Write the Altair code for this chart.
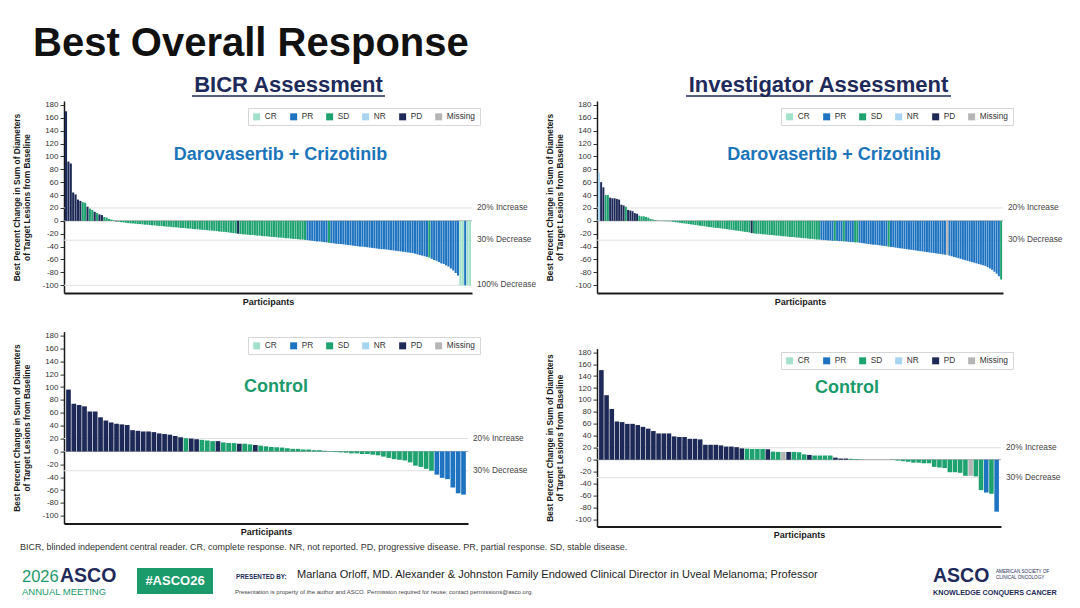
import altair as alt
import pandas as pd

FONT = "Liberation Sans"
NAVY = "#1e2a5a"
GREEN = "#1b9a6b"
ARM_BLUE = "#1a75bb"

RESPONSES = ["CR", "PR", "SD", "NR", "PD", "Missing"]
RESPONSE_COLORS = ["#a3e1ca", "#1f74c1", "#1ea26f", "#a7d5f0", "#1d2957", "#b5b5b5"]
Y_TICKS = [-100, -80, -60, -40, -20, 0, 20, 40, 60, 80, 100, 120, 140, 160, 180]
Y_DOMAIN = [-112, 186]
Y_TITLE = ["Best Percent Change in Sum of Diameters", "of Target Lesions from Baseline"]
X_TITLE = "Participants"
REF_VALUES = [20, -30, -100]
REF_LABELS = ["20% Increase", "30% Decrease", "100% Decrease"]

# ---- data: (best overall response, [best % change per participant]) runs ----
bicr_combo = [
    ("PD", [170, 92, 89, 44, 41, 33, 31]),
    ("SD", [29, 28]),
    ("PD", [22]),
    ("SD", [19, 17]),
    ("PD", [14]),
    ("SD", [12]),
    ("PD", [10, 9]),
    ("SD", [6, 5, 3, 2, 1]),
    ("PD", [-1]),
    ("SD", [-1.5, -2, -2.5, -3, -3.5, -4, -4, -4.5, -5, -5, -5.5, -6, -6, -6.5,
            -7, -7, -7.5, -8, -8, -8.5, -9, -9, -9.5, -10, -10, -10.5, -11, -11, -11.5, -12, -12,
            -12.5, -13, -13, -13.5, -14, -14, -14.5, -15, -15, -15.5, -16, -16.5, -17, -17, -17.5,
            -18, -18.5, -19, -19.5]),
    ("PD", [-20]),
    ("SD", [-20.5, -21, -21, -21.5, -22, -22, -22.5, -23, -23, -23.5, -24, -24, -24.5, -25, -25,
            -25.5, -26, -26, -26.5, -27, -27, -27.5, -28, -28, -28.5, -29, -29, -29.5]),
    ("PR", [-30, -30.5, -31, -31.5, -32, -32, -32.5, -33, -33.5]),
    ("SD", [-34]),
    ("PR", [-34.5, -35, -35.5, -36, -36, -36.5, -37, -37.5, -38, -38.5, -39, -39.5, -40, -40,
            -40.5, -41, -41.5, -42, -42.5, -43, -43.5, -44, -44, -44.5, -45, -45.5, -46, -46.5,
            -47, -47.5, -48, -48.5, -49, -49.5, -50, -51, -52, -53, -54, -55, -56]),
    ("SD", [-57]),
    ("PR", [-59, -61, -62, -64, -66, -67, -69, -71, -74, -77, -81, -85]),
    ("CR", [-100, -100]),
    ("PR", [-100]),
    ("CR", [-100, -100]),
]

inv_combo = [
    ("NR", [75]),
    ("PD", [60, 52]),
    ("SD", [40, 40]),
    ("PD", [36, 35, 35, 34, 33, 25, 24]),
    ("SD", [22]),
    ("PD", [17, 16, 15, 12, 11]),
    ("SD", [8, 7, 7, 6, 5, 3, 2, 1, 0.5,
            -0.3, -0.3, -0.5, -0.5, -0.7, -0.8,
            -1.5, -2, -2.5, -3, -3.5, -4, -4.5, -5, -5.5, -6, -6.5, -7, -7.5, -8, -8.5, -9,
            -9.5, -10, -10.5, -11, -11, -11.5, -12, -12.5, -13,
            -13.5, -14, -14.5, -15, -15.5, -16, -16.5, -17, -17.5, -18]),
    ("PD", [-19]),
    ("SD", [-19.5, -20, -20, -20.5, -21, -21, -21.5, -22, -22, -22.5, -23, -23, -23.5, -24, -24,
            -24.5, -25, -25, -25.5, -26, -26, -26.5, -27, -27, -27.5, -28, -28, -28.5, -29, -29]),
    ("PR", [-29.5, -30, -30, -30.5, -30.5, -31]),
    ("SD", [-31]),
    ("PR", [-31, -31.5, -31.5]),
    ("SD", [-32]),
    ("PR", [-32, -32.5, -33, -33]),
    ("SD", [-33.5, -33.5]),
    ("PR", [-34, -34.5, -35, -35.5, -36, -36.5, -37, -37, -37.5, -38, -38.5, -39, -39.5]),
    ("SD", [-40]),
    ("PR", [-40.5, -41, -41.5, -42, -42.5, -43, -43.5, -44, -44.5, -45, -45.5, -46, -46.5, -47,
            -47.5, -48, -48.5, -49, -49.5, -50, -50.5, -51, -51.5, -52, -52.5]),
    ("Missing", [-53]),
    ("PR", [-54, -55, -56, -57, -58, -59, -60, -61, -62, -63, -64, -65, -66, -67, -68, -69, -70,
            -72, -74, -76, -79, -82, -86]),
    ("SD", [-91]),
]

bicr_control = [
    ("PD", [96, 74, 72, 70, 62, 62, 53, 48, 45, 43, 42, 41, 33, 32, 31, 31, 30, 28, 27, 26, 24, 22]),
    ("SD", [20.5]),
    ("PD", [20, 19]),
    ("SD", [18, 17, 16]),
    ("PD", [16]),
    ("SD", [14, 13, 13]),
    ("PD", [12]),
    ("SD", [12, 11]),
    ("PD", [10]),
    ("SD", [9, 8, 7, 6.5, 6, 5, 4, 4, 3, 3, 2, 2, 1, 0.5,
            -1, -1.5, -2, -3, -3, -4, -4, -5, -6, -8, -10, -12, -13, -14, -17, -22, -24, -27, -30]),
    ("PR", [-36, -41, -43, -56, -65, -67]),
]

inv_control = [
    ("PD", [150, 108, 85, 64, 63, 60, 60, 58, 55, 52, 48, 44, 44, 44, 39, 38, 38, 35, 35, 34,
            25, 25, 25, 24, 22, 22, 21, 19]),
    ("SD", [18.5, 18, 18, 18]),
    ("PD", [17.5]),
    ("SD", [13.5, 13]),
    ("Missing", [13]),
    ("PD", [13]),
    ("SD", [13, 12.5, 9]),
    ("PD", [8]),
    ("SD", [7, 7, 7, 7]),
    ("PD", [3.5, 2, 2]),
    ("SD", [1.5, 1, 0.5, 0, 0, 0, 0, 0, -0.5, -1.5, -2.5, -3.5, -5, -5, -6, -6, -12, -13, -14,
            -21, -21, -22, -27]),
    ("Missing", [-27]),
    ("SD", [-28, -51]),
    ("PR", [-55]),
    ("SD", [-57]),
    ("PR", [-87]),
]

FOOTNOTE = ("BICR, blinded independent central reader. CR, complete response. NR, not reported. "
            "PD, progressive disease. PR, partial response. SD, stable disease.")
PRESENTER = ("Marlana Orloff, MD. Alexander & Johnston Family Endowed Clinical Director in "
             "Uveal Melanoma; Professor")
PERMISSION = ("Presentation is property of the author and ASCO. Permission required for reuse; "
              "contact permissions@asco.org.")


def to_frame(segments):
    rows = []
    for resp, vals in segments:
        for v in vals:
            rows.append({"i": len(rows) + 1, "value": v, "resp": resp})
    return pd.DataFrame(rows)


def txt(text, x, y, size, color="#222222", weight="normal", align="left", baseline="alphabetic"):
    return alt.Chart(pd.DataFrame({"t": [text]})).mark_text(
        fontSize=size, color=color, fontWeight=weight, align=align, baseline=baseline, font=FONT
    ).encode(x=alt.value(x), y=alt.value(y), text="t:N")


def hline(x1, x2, y, color, width):
    return alt.Chart(pd.DataFrame({"a": [0]})).mark_rule(color=color, strokeWidth=width).encode(
        x=alt.value(x1), x2=alt.value(x2), y=alt.value(y))


def box(x1, x2, y1, y2, color, opacity=1.0):
    return alt.Chart(pd.DataFrame({"a": [0]})).mark_rect(color=color, opacity=opacity).encode(
        x=alt.value(x1), x2=alt.value(x2), y=alt.value(y1), y2=alt.value(y2))


def panel(segments, width, height, n_refs, legend_y, arm_text, arm_color, arm_x, arm_y,
          y_range=None, extra=()):
    df = to_frame(segments)
    if y_range:
        yscale = alt.Scale(domain=Y_DOMAIN, nice=False, range=y_range)
    else:
        yscale = alt.Scale(domain=Y_DOMAIN, nice=False)
    yaxis = alt.Axis(values=Y_TICKS, title=Y_TITLE, labelExpr="'' + datum.value", grid=False,
                     domainColor="#1a1a1a", domainWidth=1.5, tickColor="#333333", tickSize=4,
                     labelFontSize=8, labelColor="#333333", labelPadding=2,
                     titleFontSize=8.4, titleFontWeight="bold", titleColor="#1a1a1a",
                     titlePadding=10, titleLineHeight=10)
    y_enc = alt.Y("value:Q", scale=yscale, axis=yaxis)
    refs = pd.DataFrame({"value": REF_VALUES[:n_refs], "lab": REF_LABELS[:n_refs]})

    rules = alt.Chart(refs).mark_rule(color="#e0e0e0", strokeWidth=1).encode(y=y_enc)
    zero = alt.Chart(pd.DataFrame({"value": [0]})).mark_rule(color="#a6a6a6", strokeWidth=1).encode(y=y_enc)
    bars = alt.Chart(df).mark_bar().encode(
        x=alt.X("i:O", scale=alt.Scale(paddingInner=0.12, paddingOuter=0.4),
                axis=alt.Axis(labels=False, ticks=False, title=X_TITLE, grid=False,
                              domainColor="#1a1a1a", domainWidth=2, titleFontSize=9,
                              titleFontWeight="bold", titleColor="#1a1a1a", titlePadding=4)),
        y=y_enc,
        color=alt.Color("resp:N", scale=alt.Scale(domain=RESPONSES, range=RESPONSE_COLORS),
                        legend=alt.Legend(orient="none", legendX=184, legendY=legend_y,
                                          direction="horizontal", columns=6, title=None,
                                          symbolType="square", symbolSize=49, symbolStrokeWidth=0,
                                          labelFontSize=8.3, labelColor="#333333", labelOffset=4,
                                          columnPadding=12, padding=4.5, strokeColor="#d6d6d6",
                                          fillColor="#ffffff", labelFont=FONT)),
    )
    ref_text = alt.Chart(refs).mark_text(align="left", baseline="middle", fontSize=8.3,
                                         color="#444444", font=FONT).encode(
        x=alt.value(width + 5), y=y_enc, text="lab:N")
    arm = txt(arm_text, arm_x, arm_y, 18, arm_color, "bold", align="center")
    return alt.layer(rules, zero, bars, ref_text, arm, *extra).properties(width=width, height=height)


# header (drawn in the top-left panel's frame of reference)
header_tl = [
    box(-56, 1008, -93, 499, "#ffffff", 0.0),
    txt("Best Overall Response", -31, -45, 40, "#111111", "bold"),
    txt("BICR Assessment", 224.5, -9, 22, NAVY, "bold", align="center"),
    hline(128, 321, -5, NAVY, 1.6),
]
header_tr = [
    txt("Investigator Assessment", 221.5, -9, 22, NAVY, "bold", align="center"),
    hline(89, 354, -5, NAVY, 1.6),
]
footer_bl = [
    txt(FOOTNOTE, -44, 215.4, 9, "#333333", baseline="middle"),
    txt("2026", -42, 250, 16.5, GREEN),
    txt("ASCO", -4, 250, 19.5, NAVY, "bold"),
    txt("ANNUAL MEETING", -42, 263.5, 9.5, GREEN),
    box(73, 149, 236.4, 262.4, GREEN),
    txt("#ASCO26", 111, 249.4, 13, "#ffffff", "bold", align="center", baseline="middle"),
    txt("PRESENTED BY:", 172, 244.9, 6.3, NAVY, "bold", baseline="middle"),
    txt(PRESENTER, 233, 242.9, 11, "#222222", baseline="middle"),
    txt(PERMISSION, 171, 260, 6, "#444444", baseline="middle"),
    txt("ASCO", 869, 250.5, 19.5, NAVY, "bold"),
    txt("AMERICAN SOCIETY OF", 932, 240.4, 4.6, NAVY, baseline="middle"),
    txt("CLINICAL ONCOLOGY", 932, 246.4, 4.6, NAVY, baseline="middle"),
    txt("KNOWLEDGE CONQUERS CANCER", 869, 261, 7.2, NAVY, "bold", baseline="middle"),
]

tl = panel(bicr_combo, 408, 192, 3, 7, "Darovasertib + Crizotinib", ARM_BLUE, 216.5, 59, extra=header_tl)
tr = panel(inv_combo, 406, 192, 2, 7, "Darovasertib + Crizotinib", ARM_BLUE, 237, 59, extra=header_tr)
bl = panel(bicr_control, 404, 192, 2, 5.4, "Control", GREEN, 212, 60.4, extra=footer_bl)
br = panel(inv_control, 404, 195, 2, 20.4, "Control", GREEN, 250, 61.4, y_range=[195, 17])

chart = alt.concat(tl, tr, bl, br, columns=2, spacing={"row": 38.6, "column": 125}, bounds="flush")
chart = chart.resolve_scale(color="independent", x="independent", y="independent")
chart = chart.resolve_legend(color="independent")
chart = chart.properties(padding=0).configure(font=FONT).configure_view(strokeWidth=0)

chart.save("out.html", embed_options={"renderer": "svg", "actions": False})
